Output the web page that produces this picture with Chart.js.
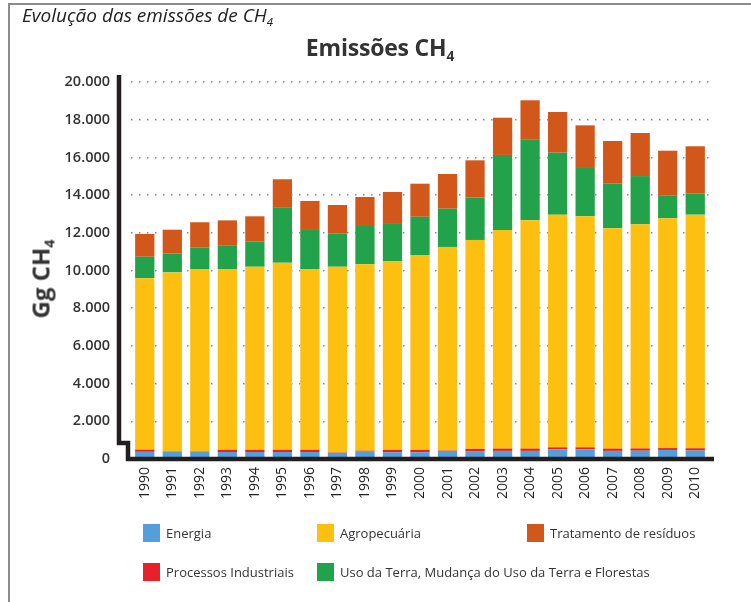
<!DOCTYPE html>
<html>
<head>
<meta charset="utf-8">
<title>Emissões CH4</title>
<script src="https://cdn.jsdelivr.net/npm/chart.js@4/dist/chart.umd.min.js"></script>
<style>
  body { margin: 0; background: #fff; font-family: "Open Sans", sans-serif; }
  #wrap { position: relative; width: 751px; height: 602px; overflow: hidden; }
  #frame { position: absolute; left: 8px; top: 3px; width: 760px; height: 620px;
           border-left: 2px solid #8c8c8c; border-top: 2px solid #8c8c8c; }
  canvas { position: absolute; left: 0; top: 0; }
  sub { font-size: 0.6em; vertical-align: -0.35em; line-height: 0; }
  .sup-title { position: absolute; left: 22px; top: 2px; font-style: italic; font-size: 19px; color: #222; }
  .main-title { position: absolute; left: 0; width: 760px; top: 31px; text-align: center;
                font-weight: 700; font-size: 23px; color: #333; letter-spacing: -0.2px; }
  .ytitle { position: absolute; left: 40px; top: 279px; transform: translate(-50%, -50%) rotate(-90deg);
            font-weight: 700; font-size: 24px; color: #333; white-space: nowrap; }
  #legend { position: absolute; left: 143px; top: 524px; display: grid;
            grid-template-columns: 174px 210px 200px; row-gap: 21px; }
  .item { display: flex; align-items: center; font-size: 13px; color: #333; white-space: nowrap; height: 18px; }
  .box { width: 17px; height: 18px; margin-right: 6px; flex: none; }
</style>
</head>
<body>
<div id="wrap">
  <div id="frame"></div>
  <canvas id="chart" width="751" height="602"></canvas>
  <div class="sup-title">Evolução das emissões de CH<sub>4</sub></div>
  <div class="main-title">Emissões CH<sub>4</sub></div>
  <div class="ytitle">Gg CH<sub>4</sub></div>
  <div id="legend"></div>
</div>
<script>
'use strict';

var years = ['1990', '1991', '1992', '1993', '1994', '1995', '1996', '1997', '1998', '1999', '2000',
             '2001', '2002', '2003', '2004', '2005', '2006', '2007', '2008', '2009', '2010'];

// Gg CH4
var energia = [380, 400, 400, 370, 370, 370, 370, 330, 420, 360, 360,
               430, 420, 430, 430, 520, 520, 430, 440, 480, 450];
var processos = [120, 20, 20, 120, 120, 120, 120, 20, 20, 120, 120,
                 20, 120, 120, 120, 100, 100, 120, 120, 100, 120];
var agropecuaria = [9090, 9480, 9660, 9590, 9710, 9925, 9590, 9850, 9890, 10020, 10340,
                    10800, 11080, 11600, 12110, 12340, 12255, 11690, 11890, 12190, 12390];
var usoTerra = [1140, 1010, 1150, 1260, 1330, 2935, 2070, 1770, 2030, 1970, 2030,
                2030, 2260, 3980, 4300, 3290, 2565, 2365, 2560, 1220, 1135];
var residuos = [1210, 1255, 1330, 1320, 1345, 1490, 1540, 1505, 1540, 1695, 1755,
                1840, 1965, 1975, 2070, 2160, 2260, 2265, 2285, 2365, 2495];

var yTicks = [0, 2000, 4000, 6000, 8000, 10000, 12000, 14000, 16000, 18000, 20000];

var colors = {
  energia: '#539fdc',
  processos: '#e8202a',
  agro: '#fdc010',
  uso: '#22a24a',
  residuos: '#d1571a'
};

// legend reads row by row, three columns
var legendOrder = ['Energia', 'Agropecuária', 'Tratamento de resíduos',
                   'Processos Industriais', 'Uso da Terra, Mudança do Uso da Terra e Florestas'];

function fmt(v) {
  return String(v).replace(/\B(?=(\d{3})+(?!\d))/g, '.');
}

// thick black axis with the little break near zero
var axisPlugin = {
  id: 'brokenAxis',
  afterDatasetsDraw: function (chart) {
    var ctx = chart.ctx, a = chart.chartArea, y = chart.scales.y;
    var xa = a.left - 12, xb = a.left - 3, yBreak = y.getPixelForValue(850);
    ctx.save();
    ctx.strokeStyle = '#231f20';
    ctx.lineWidth = 4.5;
    ctx.lineJoin = 'miter';
    ctx.beginPath();
    ctx.moveTo(xa, a.top - 7);
    ctx.lineTo(xa, yBreak);
    ctx.lineTo(xb, yBreak);
    ctx.lineTo(xb, a.bottom);
    ctx.lineTo(a.right + 5, a.bottom);
    ctx.stroke();
    ctx.restore();
  }
};

var ds = [
  { label: 'Energia', data: energia, backgroundColor: colors.energia },
  { label: 'Processos Industriais', data: processos, backgroundColor: colors.processos },
  { label: 'Agropecuária', data: agropecuaria, backgroundColor: colors.agro },
  { label: 'Uso da Terra, Mudança do Uso da Terra e Florestas', data: usoTerra, backgroundColor: colors.uso },
  { label: 'Tratamento de resíduos', data: residuos, backgroundColor: colors.residuos }
];

var chart = new Chart(document.getElementById('chart').getContext('2d'), {
  type: 'bar',
  data: { labels: years, datasets: ds },
  options: {
    responsive: false,
    animation: false,
    layout: { padding: { top: 82, right: 42, left: 0, bottom: 0 } },
    datasets: { bar: { barPercentage: 0.7, categoryPercentage: 1.0, borderWidth: 0 } },
    plugins: { legend: { display: false }, tooltip: { enabled: false } },
    scales: {
      x: {
        stacked: true,
        grid: { display: false, drawTicks: false },
        border: { display: false },
        ticks: { minRotation: 90, maxRotation: 90, padding: 8, color: '#222',
                 font: { family: 'Open Sans', size: 14 } },
        afterFit: function (s) { s.height = 143; }
      },
      y: {
        stacked: true,
        min: 0,
        max: 20000,
        afterBuildTicks: function (s) { s.ticks = yTicks.map(function (v) { return { value: v }; }); },
        grid: { color: '#8a8a8a', lineWidth: 1.5, drawTicks: false },
        border: { display: false, dash: [1.5, 6.5] },
        ticks: { padding: 21, color: '#333', font: { family: 'Open Sans', size: 14.5, weight: '600' },
                 callback: function (v) { return fmt(v); } },
        afterFit: function (s) { s.width = 131; }
      }
    }
  },
  plugins: [axisPlugin]
});

// html legend built from the chart's datasets
var legend = document.getElementById('legend');
legendOrder.forEach(function (name) {
  var d = chart.data.datasets.filter(function (x) { return x.label === name; })[0];
  var item = document.createElement('div');
  item.className = 'item';
  var box = document.createElement('span');
  box.className = 'box';
  box.style.background = d.backgroundColor;
  item.appendChild(box);
  item.appendChild(document.createTextNode(d.label));
  legend.appendChild(item);
});
</script>
</body>
</html>
